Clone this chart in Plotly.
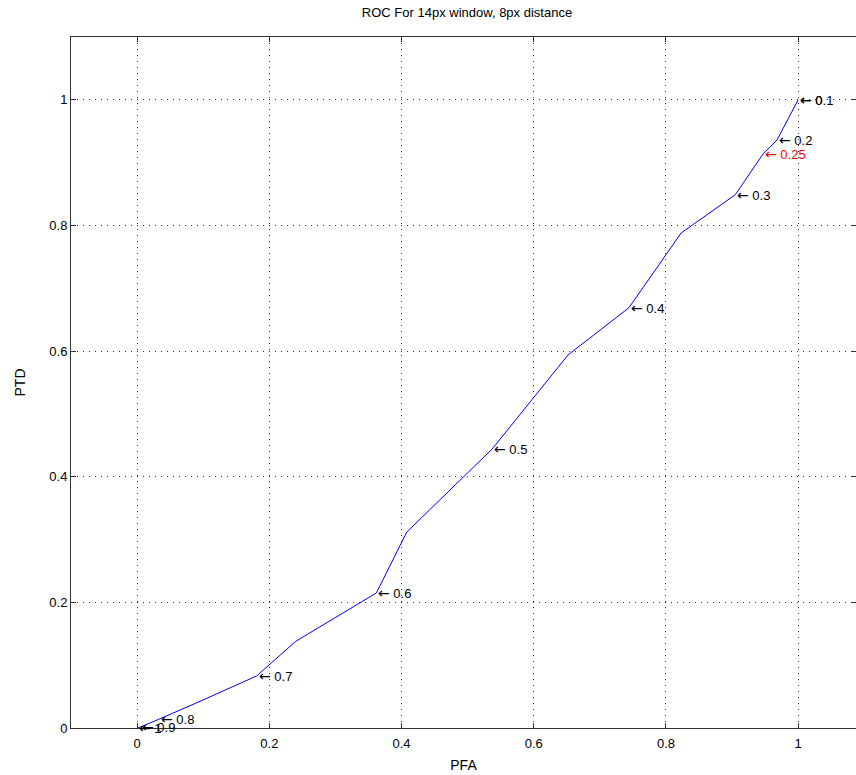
import plotly.graph_objects as go

# ROC curve vertices (probability of false alarm vs probability of target detection)
pfa = [0.0, 0.004, 0.033, 0.090, 0.181, 0.240, 0.362, 0.408, 0.537, 0.652,
       0.744, 0.823, 0.905, 0.947, 0.968, 0.982, 1.0]
ptd = [0.0, 0.001, 0.014, 0.040, 0.083, 0.138, 0.215, 0.312, 0.444, 0.594,
       0.669, 0.788, 0.849, 0.914, 0.936, 0.965, 1.0]

# Threshold markers placed along the curve
thr_values = ["1", "0.9", "0.8", "0.7", "0.6", "0.5", "0.4", "0.3", "0.25", "0.2", "0.1", "0"]
thr_pfa = [0.0, 0.004, 0.033, 0.181, 0.362, 0.537, 0.744, 0.905, 0.947, 0.968, 1.0, 1.0]
thr_ptd = [0.0, 0.001, 0.014, 0.083, 0.215, 0.444, 0.669, 0.849, 0.914, 0.936, 1.0, 1.0]
thr_colors = ["black"] * 8 + ["red"] + ["black"] * 3

x_ticks = [0, 0.2, 0.4, 0.6, 0.8, 1]
y_ticks = [0, 0.2, 0.4, 0.6, 0.8, 1]

FONT = "Liberation Sans, Arial, sans-serif"
ARROW = "<span style='font-family:DejaVu Sans;font-size:14px'>\u2190</span>"

fig = go.Figure()
fig.add_trace(go.Scatter(
    x=pfa, y=ptd, mode="lines",
    line=dict(color="#0000ff", width=1),
    hoverinfo="skip", showlegend=False,
))

for v, x, y, c in zip(thr_values, thr_pfa, thr_ptd, thr_colors):
    fig.add_annotation(
        x=x, y=y, text=ARROW + " " + v, showarrow=False,
        xanchor="left", yanchor="middle", xshift=0,
        font=dict(family=FONT, size=13, color=c),
    )

axis_common = dict(
    showline=True, linecolor="#333333", linewidth=1, mirror="ticks",
    ticks="inside", ticklen=5, tickcolor="#333333",
    showgrid=True, gridcolor="#333333", gridwidth=1, griddash="1px,5px",
    zeroline=False,
    tickfont=dict(family=FONT, size=13, color="black"),
)

fig.update_xaxes(range=[-0.1, 1.0875], tickvals=x_ticks,
                 ticktext=[f"{t:g}" for t in x_ticks], ticklabelstandoff=3,
                 title=dict(text="PFA", font=dict(family=FONT, size=14, color="black"), standoff=10),
                 **axis_common)
fig.update_yaxes(range=[0, 1.1], tickvals=y_ticks,
                 ticktext=[f"{t:g}" for t in y_ticks],
                 title=dict(text="PTD", font=dict(family=FONT, size=14, color="black"), standoff=20),
                 **axis_common)

fig.update_layout(
    width=856, height=775,
    margin=dict(l=71, r=0, t=37, b=47),
    paper_bgcolor="white", plot_bgcolor="white",
    title=dict(text="ROC For 14px window, 8px distance",
               x=467 / 856, xanchor="center", y=1 - 12 / 775, yanchor="middle",
               font=dict(family=FONT, size=13, color="black")),
)

fig.write_html("out.html")
